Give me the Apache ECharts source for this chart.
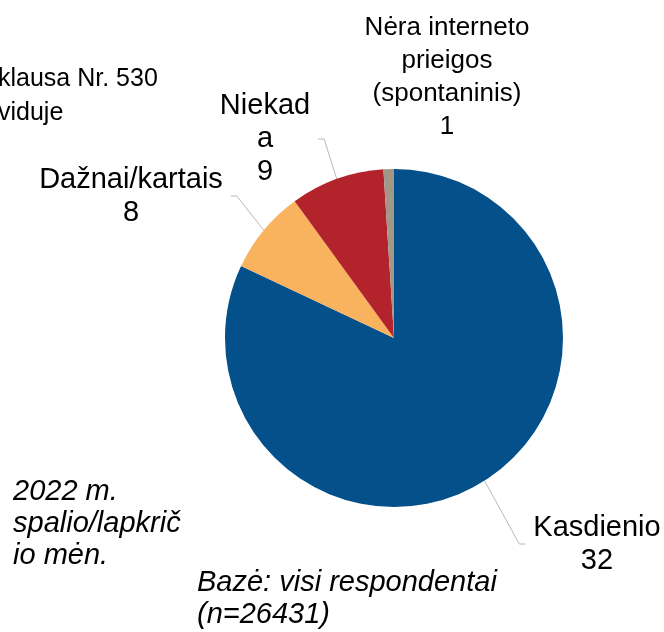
<!DOCTYPE html>
<html>
<head>
<meta charset="utf-8">
<script src="https://cdn.jsdelivr.net/npm/echarts@6/dist/echarts.min.js"></script>
<style>
  html, body { margin: 0; padding: 0; background: #fff; }
  #chart { width: 664px; height: 632px; }
</style>
</head>
<body>
<div id="chart"></div>
<script>
// categories as printed on the slide (line breaks kept as in the picture)
const categories = ['Kasdienio', 'Dažnai/kartais', 'Niekad\na', 'Nėra interneto\nprieigos\n(spontaninis)'];
// slice shares
const shares = [82, 8, 9, 1];
// numbers printed under each label
const printedValues = ['32', '8', '9', '1'];
const colors = ['#03508b', '#f9b35f', '#b3232b', '#a39788'];

const chart = echarts.init(document.getElementById('chart'));
const font = '"Liberation Sans", Arial, sans-serif';

// label block centres (x, y) and font sizes
const labelPos = [[597, 544], [131, 196], [265, 139], [447, 77]];
const labelSize = [29, 29, 29, 26];

chart.setOption({
  animation: false,
  graphic: [
    { type: 'text', left: -2, top: 62, style: { text: 'klausa Nr. 530\nviduje', font: '25px ' + font, lineHeight: 34, fill: '#000' } },
    { type: 'text', left: 13, top: 476, style: { text: '2022 m.\nspalio/lapkrič\nio mėn.', font: 'italic 29px ' + font, lineHeight: 32, fill: '#000' } },
    { type: 'text', left: 197, top: 567, style: { text: 'Bazė: visi respondentai\n(n=26431)', font: 'italic 29px ' + font, lineHeight: 32, fill: '#000' } }
  ],
  series: [{
    type: 'pie',
    center: [394, 338],
    radius: 169,
    startAngle: 90,
    clockwise: true,
    avoidLabelOverlap: false,
    data: categories.map((c, i) => ({
      name: c,
      value: shares[i],
      itemStyle: { color: colors[i] },
      label: { fontSize: labelSize[i] },
      labelLine: { show: i !== 3 }
    })),
    label: {
      show: true,
      position: 'outside',
      formatter: p => p.name + '\n' + printedValues[p.dataIndex],
      fontFamily: font,
      fontSize: 29,
      lineHeight: 33,
      color: '#000',
      align: 'center',
      padding: [0, 8]
    },
    labelLine: {
      show: true,
      length: 14,
      length2: 6,
      lineStyle: { color: '#b8b8b8', width: 1 }
    },
    labelLayout: p => ({
      x: labelPos[p.dataIndex][0],
      y: labelPos[p.dataIndex][1],
      align: 'center',
      verticalAlign: 'middle'
    }),
    emphasis: { disabled: true }
  }]
});
</script>
</body>
</html>
